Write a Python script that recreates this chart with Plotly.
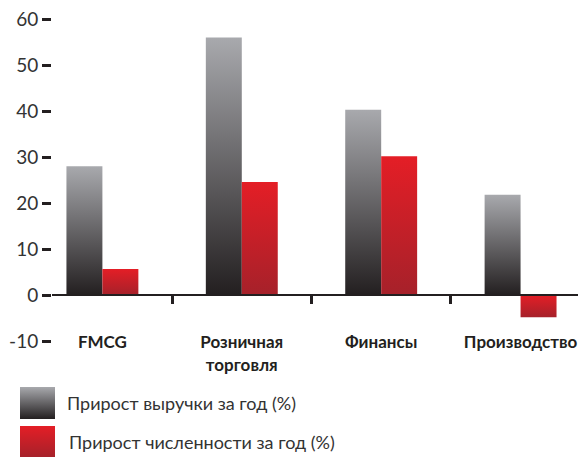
import plotly.graph_objects as go

# ---- data ----
categories = ["FMCG", "Розничная<br>торговля", "Финансы", "Производство"]
revenue_growth = [28.0, 56.0, 40.3, 21.8]
headcount_growth = [5.7, 24.6, 30.2, -4.8]
series_names = ["Прирост выручки за год (%)", "Прирост численности за год (%)"]
y_tickvals = [-10, 0, 10, 20, 30, 40, 50, 60]
y_ticktext = ["-10", "0", "10", "20", "30", "40", "50", "60"]

# ---- style ----
W, H = 578, 457
M_T, M_B = 10, 0
PAPER_H = H - M_T - M_B
BAR_W = 0.258
DARK = "#231f20"
GRAY_SCALE = [[0, "#231f20"], [1, "#a8a9ad"]]
RED_SCALE = [[0, "#a6212a"], [1, "#e41e26"]]
Y_RANGE = [-10.2, 62]
X_RANGE = [-0.3616, 3.412]
PLOT_LEFT_PX, PLOT_BOTTOM_PX = 52, 342
LEG_H = 77  # legend strip height in px

y_dom0 = (H - PLOT_BOTTOM_PX - M_B) / PAPER_H
zero_pos = y_dom0 + (0 - Y_RANGE[0]) / (Y_RANGE[1] - Y_RANGE[0]) * (1 - y_dom0)

fig = go.Figure()

# bars drawn as gradient-filled polygons built from the data arrays
for i, (rv, hv) in enumerate(zip(revenue_growth, headcount_growth)):
    for val, x0, x1, scale, nm in [
        (rv, i - BAR_W, i, GRAY_SCALE, series_names[0]),
        (hv, i, i + BAR_W, RED_SCALE, series_names[1]),
    ]:
        fig.add_trace(go.Scatter(
            x=[x0, x1, x1, x0, x0], y=[0, 0, val, val, 0],
            mode="lines", line=dict(width=0, color="rgba(0,0,0,0)"),
            fill="toself",
            fillgradient=dict(type="vertical", colorscale=scale),
            name=nm, hoverinfo="name+y", showlegend=False,
            xaxis="x", yaxis="y",
        ))

# custom legend (squares in a small strip subplot)
legend_boxes = [(20, 55, 38, 70), (20, 55, 0, 31)]
for (lx0, lx1, ly0, ly1), scale, nm, tx in zip(legend_boxes, [GRAY_SCALE, RED_SCALE], series_names, [65, 67]):
    fig.add_trace(go.Scatter(
        x=[lx0, lx1, lx1, lx0, lx0], y=[ly0, ly0, ly1, ly1, ly0],
        mode="lines", line=dict(width=0, color="rgba(0,0,0,0)"),
        fill="toself", fillgradient=dict(type="vertical", colorscale=scale),
        hoverinfo="skip", showlegend=False, xaxis="x2", yaxis="y2",
    ))
    fig.add_annotation(
        x=tx, y=(ly0 + ly1) / 2, xref="x2", yref="y2", text=nm,
        showarrow=False, xanchor="left", yanchor="middle",
        font=dict(family="Lato", size=18, color="#333333"),
    )

fig.update_layout(
    width=W, height=H,
    margin=dict(l=0, r=0, t=M_T, b=M_B, pad=0, autoexpand=False),
    paper_bgcolor="white", plot_bgcolor="white",
    showlegend=False,
    xaxis=dict(
        domain=[PLOT_LEFT_PX / W, 1], range=X_RANGE,
        anchor="free", position=zero_pos, automargin=False,
        tickmode="array", tickvals=list(range(len(categories))), ticktext=categories,
        ticks="", ticklabelstandoff=32, ticklabeloverflow="allow",
        tickfont=dict(family="Lato", size=17, color=DARK, weight="bold"),
        minor=dict(tickmode="array", tickvals=[0.5, 1.5, 2.5], ticks="outside",
                   ticklen=8, tickwidth=3, tickcolor=DARK),
        showline=True, linecolor=DARK, linewidth=2,
        showgrid=False, zeroline=False, fixedrange=True,
    ),
    yaxis=dict(
        domain=[y_dom0, 1], range=Y_RANGE, anchor="x", automargin=False,
        tickmode="array", tickvals=y_tickvals, ticktext=y_ticktext,
        ticks="outside", ticklen=9, tickwidth=3, tickcolor=DARK,
        tickfont=dict(family="Lato", size=19, color="#333333"),
        showline=False, showgrid=False, zeroline=False, fixedrange=True,
    ),
    xaxis2=dict(domain=[0, 1], range=[0, W], visible=False, anchor="y2", fixedrange=True),
    yaxis2=dict(domain=[0, LEG_H / PAPER_H], range=[0, LEG_H], visible=False, anchor="x2", fixedrange=True),
)

fig.write_html("out.html")
